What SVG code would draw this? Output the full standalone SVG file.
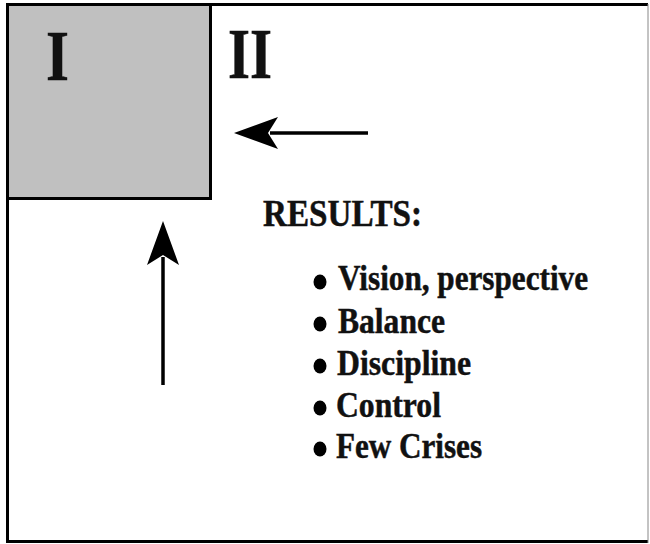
<svg xmlns="http://www.w3.org/2000/svg" width="650" height="544" viewBox="0 0 650 544">
<style>
.t{font-family:"Liberation Serif","Times New Roman",serif;font-weight:bold;fill:#111;stroke:#111;stroke-width:0.5}
.big{font-size:72px}
.hd{font-size:37px}
.it{font-size:36px}
.conn{stroke:#000;stroke-width:3.5;fill:none}
.bul{fill:#000}
</style>
<defs>
<marker id="ah" markerUnits="userSpaceOnUse" markerWidth="60" markerHeight="40" viewBox="-10 -20 60 40" refX="0" refY="0" orient="auto" overflow="visible">
<path d="M36,0 L-8,-16 L2,0 L-8,16 Z" fill="#000"/>
</marker>
</defs>
<rect x="0" y="0" width="650" height="544" fill="#fff"/>
<g id="frame">
<line x1="6" y1="4.5" x2="648" y2="4.5" stroke="#000" stroke-width="3"/>
<line x1="7.5" y1="3" x2="7.5" y2="543" stroke="#000" stroke-width="3"/>
<line x1="6" y1="541.5" x2="648" y2="541.5" stroke="#000" stroke-width="3"/>
<line x1="648" y1="4" x2="648" y2="543" stroke="#888" stroke-width="1"/>
</g>
<g id="quadrant-1">
<rect x="7.5" y="4.5" width="203" height="194" fill="#c0c0c0" stroke="#000" stroke-width="3"/>
<text class="t big" x="46" y="80" textLength="23" lengthAdjust="spacingAndGlyphs">I</text>
</g>
<g id="quadrant-2">
<text class="t big" x="228" y="78" textLength="44" lengthAdjust="spacingAndGlyphs">II</text>
</g>
<g id="results">
<text class="t hd" x="263" y="226" textLength="159" lengthAdjust="spacingAndGlyphs">RESULTS:</text>
<ellipse class="bul" cx="320" cy="282" rx="6.5" ry="7.5"/>
<text class="t it" x="338" y="290" textLength="250" lengthAdjust="spacingAndGlyphs">Vision, perspective</text>
<ellipse class="bul" cx="320" cy="324" rx="6.5" ry="7.5"/>
<text class="t it" x="338" y="333" textLength="107" lengthAdjust="spacingAndGlyphs">Balance</text>
<ellipse class="bul" cx="320" cy="366" rx="6.5" ry="7.5"/>
<text class="t it" x="337" y="375" textLength="134" lengthAdjust="spacingAndGlyphs">Discipline</text>
<ellipse class="bul" cx="320" cy="408" rx="6.5" ry="7.5"/>
<text class="t it" x="336" y="417" textLength="105" lengthAdjust="spacingAndGlyphs">Control</text>
<ellipse class="bul" cx="320" cy="449" rx="6.5" ry="7.5"/>
<text class="t it" x="336" y="458" textLength="146" lengthAdjust="spacingAndGlyphs">Few Crises</text>
</g>
<g id="connectors">
<line class="conn" x1="368" y1="133" x2="270" y2="133" marker-end="url(#ah)"/>
<line class="conn" x1="163" y1="385" x2="163" y2="257" marker-end="url(#ah)"/>
</g>
</svg>
